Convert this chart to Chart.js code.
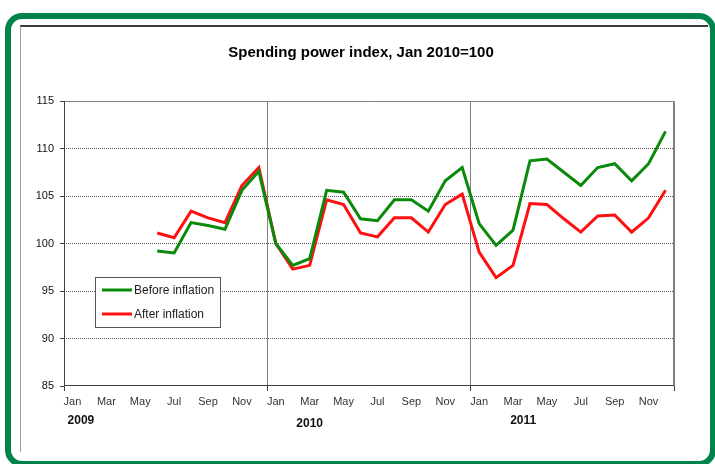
<!DOCTYPE html>
<html>
<head>
<meta charset="utf-8">
<script src="https://cdn.jsdelivr.net/npm/chart.js@4"></script>
<style>
  body { margin: 0; background: #fff; }
  #wrap { position: relative; width: 715px; height: 464px; overflow: hidden; }
  #frame { position: absolute; left: 5px; top: 13px; width: 711px; height: 454px;
           box-sizing: border-box; border: 6px solid #00844a; border-radius: 17px; }
  #topline { position: absolute; left: 20px; top: 25px; width: 688px; height: 2px; background: #3a3a3a; }
  #leftline { position: absolute; left: 20px; top: 26px; width: 1px; height: 426px; background: #a0a0a0; }
  canvas { position: absolute; left: 0; top: 0; }
</style>
</head>
<body>
<div id="wrap">
  <div id="frame"></div>
  <div id="topline"></div>
  <div id="leftline"></div>
  <canvas id="myChart" width="715" height="464"></canvas>
</div>
<script>
var months = ["Jan", "Feb", "Mar", "Apr", "May", "Jun", "Jul", "Aug", "Sep", "Oct", "Nov", "Dec"];
var years = ["2009", "2010", "2011"];

// Jun 2009 .. Dec 2011, nothing before June 2009
var beforeInflation = [null, null, null, null, null, 99.2, 99.0, 102.2, 101.9, 101.5, 105.6, 107.6,
    100.0, 97.7, 98.4, 105.6, 105.4, 102.6, 102.4, 104.6, 104.6, 103.4, 106.6, 108.0,
    102.1, 99.8, 101.4, 108.7, 108.9, 107.5, 106.1, 108.0, 108.4, 106.6, 108.4, 111.8];
var afterInflation = [null, null, null, null, null, 101.1, 100.6, 103.4, 102.7, 102.2, 106.1, 108.0,
    100.0, 97.3, 97.7, 104.6, 104.1, 101.1, 100.7, 102.7, 102.7, 101.2, 104.1, 105.2,
    99.1, 96.4, 97.7, 104.2, 104.1, 102.6, 101.2, 102.9, 103.0, 101.2, 102.7, 105.6];

var title = "Spending power index, Jan 2010=100";

var labels = [];
years.forEach(function (y) {
    months.forEach(function (m) { labels.push(m + " " + y); });
});

var font = "'Liberation Sans', Arial, sans-serif";

var extras = {
    id: "extras",
    beforeDatasetsDraw: function (chart) {
        var ctx = chart.ctx, a = chart.chartArea;
        ctx.save();
        ctx.lineWidth = 1;
        ctx.strokeStyle = "#808080";
        ctx.beginPath();
        ctx.moveTo(a.left, a.top + 0.5);
        ctx.lineTo(a.right - 0.5, a.top + 0.5);
        ctx.lineTo(a.right - 0.5, a.bottom);
        ctx.stroke();
        ctx.strokeStyle = "#404040";
        ctx.beginPath();
        ctx.moveTo(a.left + 0.5, a.top);
        ctx.lineTo(a.left + 0.5, a.bottom - 0.5);
        ctx.lineTo(a.right, a.bottom - 0.5);
        ctx.stroke();
        ctx.restore();
    },
    afterDraw: function (chart) {
        var ctx = chart.ctx, x = chart.scales.x;
        ctx.save();
        ctx.fillStyle = "#000";
        ctx.textAlign = "center";
        ctx.textBaseline = "middle";
        ctx.font = "bold 15px " + font;
        ctx.fillText(title, 361, 53);

        // year labels under the month ticks
        ctx.font = "bold 12px " + font;
        ctx.fillStyle = "#111";
        ctx.fillText(years[0], x.getPixelForValue(0.5), 421);
        ctx.fillText(years[1], x.getPixelForValue(14), 424);
        ctx.fillText(years[2], x.getPixelForValue(26.6), 421);

        // boxed legend inside the plot
        ctx.fillStyle = "#fff";
        ctx.fillRect(95, 277, 125, 50);
        ctx.strokeStyle = "#555";
        ctx.lineWidth = 1;
        ctx.strokeRect(95.5, 277.5, 125, 50);
        ctx.font = "12px " + font;
        ctx.textAlign = "left";
        chart.data.datasets.forEach(function (ds, i) {
            var y = 290 + i * 24;
            ctx.strokeStyle = ds.borderColor;
            ctx.lineWidth = 3;
            ctx.beginPath();
            ctx.moveTo(102, y);
            ctx.lineTo(132, y);
            ctx.stroke();
            ctx.fillStyle = "#222";
            ctx.fillText(ds.label, 134, y + 1);
        });
        ctx.restore();
    }
};

new Chart("myChart", {
    type: "line",
    data: {
        labels: labels,
        datasets: [
            {
                label: "Before inflation",
                data: beforeInflation,
                borderColor: "#0a8a0a",
                borderWidth: 3,
                pointRadius: 0,
                tension: 0
            },
            {
                label: "After inflation",
                data: afterInflation,
                borderColor: "#ff1010",
                borderWidth: 3,
                pointRadius: 0,
                tension: 0
            }
        ]
    },
    options: {
        responsive: false,
        animation: false,
        layout: { padding: { left: 20, right: 41, top: 101, bottom: 28 } },
        plugins: {
            legend: { display: false },
            tooltip: { enabled: false },
            title: { display: false }
        },
        scales: {
            x: {
                offset: true,
                afterFit: function (s) { s.height = 50; },
                grid: {
                    offset: true,
                    tickLength: 5,
                    color: function (c) {
                        var i = c.index;
                        return (i === undefined || i === 0 || i === 12 || i === 24) ? "#808080" : "rgba(0,0,0,0)";
                    },
                    tickColor: function (c) {
                        var i = c.index;
                        return (i === undefined || i === 0 || i === 12 || i === 24) ? "#404040" : "rgba(0,0,0,0)";
                    }
                },
                border: { display: false },
                ticks: {
                    autoSkip: false,
                    maxRotation: 0,
                    padding: 4,
                    color: "#333",
                    font: { family: font, size: 11 },
                    callback: function (v, i) { return i % 2 === 0 ? months[i % 12] : ""; }
                }
            },
            y: {
                min: 85,
                max: 115,
                afterFit: function (s) { s.width = 44; },
                grid: {
                    tickLength: 4,
                    lineWidth: 1,
                    color: function (c) {
                        var v = c.tick ? c.tick.value : 0;
                        return (v === 85 || v === 115) ? "rgba(0,0,0,0)" : "#5a5a5a";
                    },
                    tickColor: "#404040"
                },
                border: { display: false, dash: [1, 1] },
                ticks: {
                    stepSize: 5,
                    padding: 6,
                    color: "#111",
                    font: { family: font, size: 11 }
                }
            }
        }
    },
    plugins: [extras]
});
</script>
</body>
</html>
